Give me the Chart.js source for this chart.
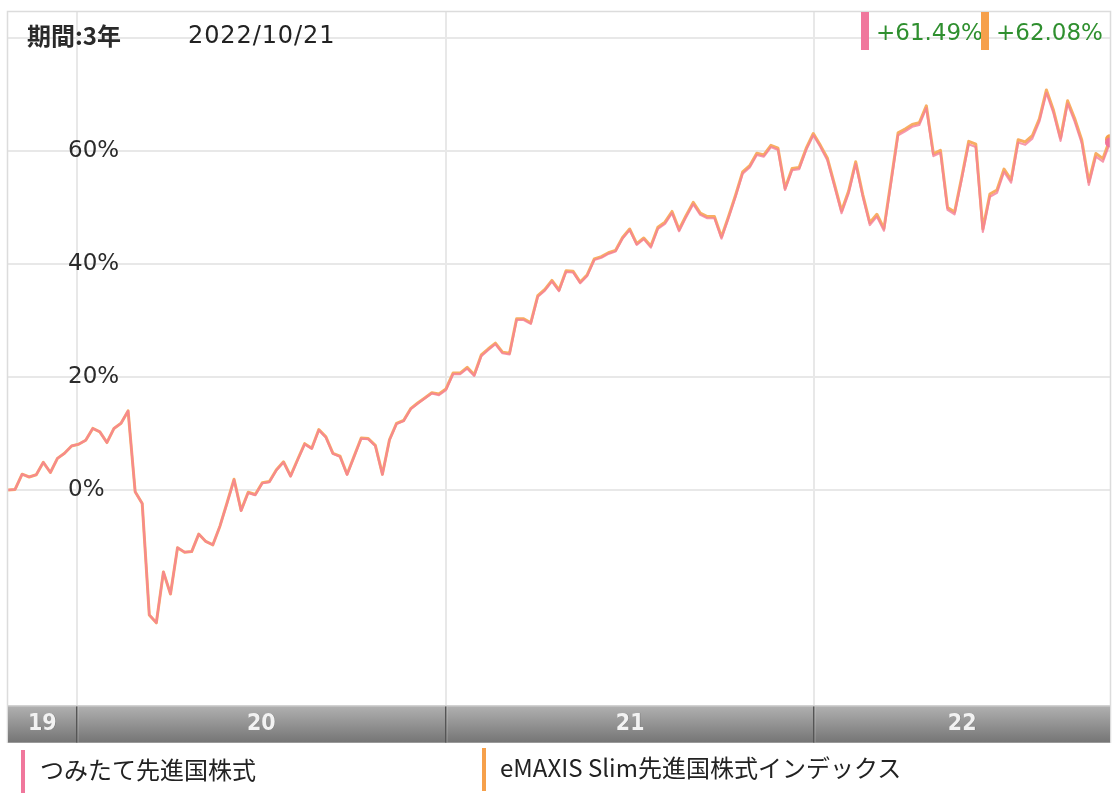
<!DOCTYPE html>
<html lang="ja">
<head>
<meta charset="utf-8">
<script src="https://cdn.jsdelivr.net/npm/chart.js@4.4.1/dist/chart.umd.min.js"></script>
<style>
  html, body { margin: 0; padding: 0; background: #fff; }
  #wrap { position: relative; width: 1119px; height: 804px; overflow: hidden; }
  canvas { position: absolute; left: 0; top: 0; }
  .t { position: absolute; white-space: nowrap; color: #222; }
  .cjk { font-family: "Noto Sans CJK JP", "Noto Sans", sans-serif; }
  .num { font-family: "DejaVu Sans", sans-serif; }
  .bar { position: absolute; }
</style>
</head>
<body>
<div id="wrap">
  <canvas id="c" width="1119" height="804"></canvas>
  <div id="period" class="t cjk" style="left:27px;top:23px;font-size:24px;line-height:24px;font-weight:bold;color:#2a2a2a;"></div>
  <div id="asof" class="t num" style="left:188px;top:23px;font-size:24px;line-height:25px;letter-spacing:0.9px;"></div>
  <div class="bar" style="left:861px;top:12px;width:8px;height:38px;background:#f0779c;"></div>
  <div id="ret0" class="t num" style="left:876px;top:20px;font-size:23px;line-height:24px;color:#2f8f2f;"></div>
  <div class="bar" style="left:981px;top:12px;width:8px;height:38px;background:#f6a04b;"></div>
  <div id="ret1" class="t num" style="left:996px;top:20px;font-size:23px;line-height:24px;color:#2f8f2f;"></div>
  <div class="bar" style="left:21px;top:750px;width:4px;height:43px;background:#f0779c;"></div>
  <div id="leg0" class="t cjk" style="left:40px;top:757px;font-size:24px;line-height:24px;"></div>
  <div class="bar" style="left:482px;top:748px;width:4px;height:43px;background:#f6a04b;"></div>
  <div id="leg1" class="t cjk" style="left:500px;top:755px;font-size:24px;line-height:24px;"></div>
</div>
<script>
// ---- data ----
const periodLabel = '期間:3年';
const asOfLabel = '2022/10/21';
const startDate = '2019-10-25';           // first weekly point
const yearLabels = ['19', '20', '21', '22'];
const yearStarts = ['2020-01-01', '2021-01-01', '2022-01-01'];
const yTicks = [0, 20, 40, 60, 80];
const seriesNames = ['つみたて先進国株式', 'eMAXIS Slim先進国株式インデックス'];
const latestReturns = ['+61.49%', '+62.08%'];

// weekly cumulative return (%)
const tsumitate = [
  0, 0.1, 2.8, 2.3, 2.7, 4.9, 3.1, 5.6, 6.5, 7.8,
  8.1, 8.8, 10.9, 10.3, 8.4, 10.9, 11.8, 14.0, -0.3, -2.4,
  -22.1, -23.5, -14.5, -18.4, -10.2, -11.0, -10.9, -7.8, -9.1, -9.7,
  -6.4, -2.4, 1.8, -3.7, -0.5, -0.9, 1.2, 1.4, 3.5, 4.9,
  2.4, 5.3, 8.1, 7.3, 10.6, 9.3, 6.4, 5.9, 2.7, 5.9,
  9.1, 9.0, 7.8, 2.7, 8.8, 11.7, 12.2, 14.3, 15.3, 16.2,
  17.1, 16.8, 17.7, 20.5, 20.5, 21.5, 20.2, 23.7, 24.8, 25.8,
  24.2, 24.0, 30.1, 30.1, 29.4, 34.2, 35.3, 36.9, 35.2, 38.6,
  38.5, 36.6, 37.9, 40.7, 41.1, 41.8, 42.2, 44.5, 46.0, 43.4,
  44.4, 42.9, 46.2, 47.1, 49.0, 45.8, 48.3, 50.6, 48.7, 48.1,
  48.1, 44.5, 48.1, 51.9, 56.0, 57.1, 59.3, 59.0, 60.7, 60.2,
  53.1, 56.6, 56.8, 60.2, 62.8, 60.7, 58.3, 53.7, 49.0, 52.5,
  57.7, 51.9, 46.9, 48.4, 45.9, 54.3, 62.8, 63.5, 64.3, 64.6,
  67.6, 59.1, 59.7, 49.6, 48.8, 54.9, 61.2, 60.7, 45.7, 51.9,
  52.6, 56.3, 54.4, 61.5, 61.1, 62.2, 65.2, 70.3, 66.7, 61.8,
  68.4, 65.2, 61.4, 54.0, 59.0, 58.1, 61.49
];
const emaxis = [
  0, 0.1, 2.8, 2.3, 2.7, 4.9, 3.1, 5.6, 6.5, 7.8,
  8.1, 8.8, 10.9, 10.3, 8.4, 10.9, 11.8, 14.0, -0.3, -2.4,
  -22.1, -23.5, -14.5, -18.4, -10.2, -11.0, -10.9, -7.8, -9.1, -9.7,
  -6.4, -2.3, 1.9, -3.6, -0.4, -0.8, 1.3, 1.5, 3.6, 5.0,
  2.5, 5.4, 8.2, 7.4, 10.7, 9.4, 6.5, 6.0, 2.8, 6.0,
  9.2, 9.1, 7.9, 2.8, 8.9, 11.8, 12.3, 14.4, 15.4, 16.3,
  17.2, 17.0, 17.9, 20.7, 20.7, 21.7, 20.4, 23.9, 25.0, 26.0,
  24.4, 24.2, 30.3, 30.3, 29.6, 34.4, 35.5, 37.1, 35.4, 38.8,
  38.7, 36.8, 38.1, 40.9, 41.3, 42.0, 42.4, 44.7, 46.2, 43.6,
  44.6, 43.2, 46.5, 47.4, 49.3, 46.1, 48.6, 50.9, 49.0, 48.4,
  48.4, 44.8, 48.4, 52.2, 56.3, 57.4, 59.6, 59.3, 61.0, 60.5,
  53.4, 56.9, 57.1, 60.5, 63.1, 61.0, 58.7, 54.1, 49.4, 52.9,
  58.1, 52.3, 47.3, 48.8, 46.3, 54.7, 63.2, 63.9, 64.7, 65.0,
  68.0, 59.5, 60.1, 50.0, 49.2, 55.3, 61.7, 61.2, 46.2, 52.4,
  53.1, 56.8, 54.9, 62.0, 61.6, 62.7, 65.7, 70.8, 67.2, 62.3,
  68.9, 65.75, 61.95, 54.55, 59.55, 58.65, 62.08
];

// ---- text ----
document.getElementById('period').textContent = periodLabel;
document.getElementById('asof').textContent = asOfLabel;
document.getElementById('ret0').textContent = latestReturns[0];
document.getElementById('ret1').textContent = latestReturns[1];
document.getElementById('leg0').textContent = seriesNames[0];
document.getElementById('leg1').textContent = seriesNames[1];

// ---- x positions (days since first point) ----
const DAY = 86400000;
const t0 = Date.parse(startDate + 'T00:00:00Z');
const dayOf = s => (Date.parse(s + 'T00:00:00Z') - t0) / DAY;
const xDays = tsumitate.map((_, i) => i * 7);
const lastDay = xDays[xDays.length - 1];
const yearStartDays = yearStarts.map(dayOf);

const pts = arr => arr.map((v, i) => ({ x: xDays[i], y: v }));
const lastIdx = tsumitate.length - 1;

const bandPlugin = {
  id: 'band',
  afterDraw(chart) {
    const { ctx, chartArea: { left, right, top, bottom }, scales: { x } } = chart;
    ctx.save();
    // frame
    ctx.strokeStyle = '#dcdcdc';
    ctx.lineWidth = 1.5;
    ctx.beginPath();
    ctx.moveTo(left - 0.5, bottom + 38);
    ctx.lineTo(left - 0.5, top - 0.5);
    ctx.lineTo(right + 0.5, top - 0.5);
    ctx.lineTo(right + 0.5, bottom + 38);
    ctx.stroke();
    // year band
    const bh = 38;
    const g = ctx.createLinearGradient(0, bottom, 0, bottom + bh);
    g.addColorStop(0, '#b2b2b2');
    g.addColorStop(1, '#747474');
    ctx.fillStyle = g;
    ctx.fillRect(left, bottom, right - left, bh);
    ctx.fillStyle = '#d2d2d2';
    ctx.fillRect(left, bottom, right - left, 1.5);
    ctx.fillStyle = '#9a9a9a';
    ctx.fillRect(left, bottom + bh - 1, right - left, 1);
    const edges = [x.getPixelForValue(0)].concat(yearStartDays.map(d => x.getPixelForValue(d)), [x.getPixelForValue(lastDay)]);
    yearStartDays.forEach(d => {
      const px = Math.round(x.getPixelForValue(d));
      ctx.fillStyle = '#555';
      ctx.fillRect(px - 1, bottom + 1.5, 1.5, bh - 2);
      ctx.fillStyle = 'rgba(255,255,255,0.25)';
      ctx.fillRect(px + 0.5, bottom + 1.5, 1, bh - 2);
    });
    ctx.font = 'bold 23px "DejaVu Sans Condensed", "DejaVu Sans", sans-serif';
    ctx.textAlign = 'center';
    ctx.textBaseline = 'middle';
    yearLabels.forEach((lab, i) => {
      const cx = (edges[i] + edges[i + 1]) / 2;
      ctx.fillStyle = 'rgba(0,0,0,0.25)';
      ctx.fillText(lab, cx + 0.5, bottom + 19.5);
      ctx.fillStyle = '#f2f2f2';
      ctx.fillText(lab, cx, bottom + 19);
    });
    ctx.restore();
  }
};

new Chart(document.getElementById('c'), {
  type: 'line',
  data: {
    datasets: [
      {
        label: seriesNames[0],
        data: pts(tsumitate),
        borderColor: 'rgba(245,128,152,0.8)',
        borderWidth: 2.2,
        borderJoinStyle: 'round',
        pointRadius: c => c.dataIndex === lastIdx ? 5 : 0,
        pointBackgroundColor: '#f0739b',
        pointBorderWidth: 0,
        tension: 0
      },
      {
        label: seriesNames[1],
        data: pts(emaxis),
        borderColor: '#f8ae62',
        borderWidth: 3,
        borderJoinStyle: 'round',
        pointRadius: c => c.dataIndex === lastIdx ? 5 : 0,
        pointBackgroundColor: '#f6a04b',
        pointBorderWidth: 0,
        tension: 0
      }
    ]
  },
  options: {
    responsive: false,
    animation: false,
    devicePixelRatio: 1,
    layout: { padding: { left: 8, right: 9, top: 12, bottom: 99 } },
    plugins: { legend: { display: false }, tooltip: { enabled: false } },
    scales: {
      x: {
        type: 'linear',
        min: 0,
        max: lastDay,
        afterBuildTicks: s => { s.ticks = yearStartDays.map(v => ({ value: v })); },
        afterFit: s => { s.height = 0; s.paddingLeft = 0; s.paddingRight = 0; },
        grid: { color: '#e8e8e8', lineWidth: 2, drawTicks: false },
        border: { display: false },
        ticks: { display: false }
      },
      y: {
        min: -38.05,
        max: 84.6,
        afterFit: s => { s.width = 0; s.paddingTop = 0; s.paddingBottom = 0; },
        afterBuildTicks: s => { s.ticks = yTicks.map(v => ({ value: v })); },
        grid: { color: '#e8e8e8', lineWidth: 2, drawTicks: false },
        border: { display: false },
        ticks: {
          mirror: true,
          padding: 60,
          color: '#2b2b2b',
          font: { family: 'DejaVu Sans', size: 23 },
          callback: v => v >= 80 ? '' : v + '%'
        }
      }
    }
  },
  plugins: [bandPlugin]
});
</script>
</body>
</html>
